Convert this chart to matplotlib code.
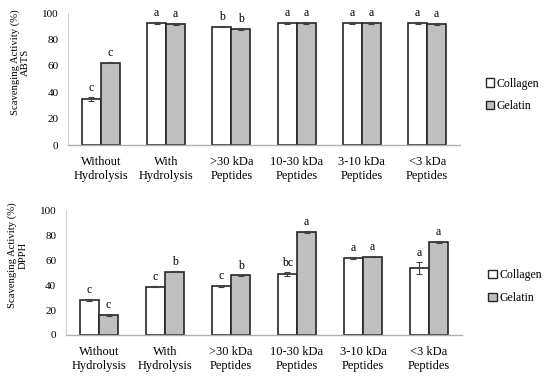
import matplotlib
matplotlib.use("Agg")
import matplotlib.pyplot as plt
import numpy as np
from matplotlib.patches import Patch

categories = ["Without\nHydrolysis", "With\nHydrolysis", ">30 kDa\nPeptides",
              "10-30 kDa\nPeptides", "3-10 kDa\nPeptides", "<3 kDa\nPeptides"]
series = ["Collagen", "Gelatin"]

abts_collagen = [34.8, 92.6, 89.8, 92.6, 92.6, 92.6]
abts_gelatin = [62.5, 91.9, 87.9, 92.6, 92.6, 91.9]
abts_col_err = [1.5, 0.6, 0.6, 0.5, 0.5, 0.5]
abts_gel_err = [0.5, 0.6, 0.8, 0.5, 0.5, 0.6]
abts_col_letters = ["c", "a", "b", "a", "a", "a"]
abts_gel_letters = ["c", "a", "b", "a", "a", "a"]

dpph_collagen = [28.2, 39.0, 39.2, 49.0, 62.0, 54.0]
dpph_gelatin = [16.0, 51.0, 48.0, 83.0, 63.0, 75.0]
dpph_col_err = [0.6, 0.5, 0.6, 1.5, 0.8, 4.5]
dpph_gel_err = [0.6, 0.5, 0.6, 0.5, 0.5, 0.5]
dpph_col_letters = ["c", "c", "c", "bc", "a", "a"]
dpph_gel_letters = ["c", "b", "b", "a", "a", "a"]

plt.rcParams['font.family'] = ['Liberation Serif', 'DejaVu Serif']

fig = plt.figure(figsize=(5.5, 3.78), dpi=100)
ax1 = fig.add_axes([0.124, 0.616, 0.712, 0.349])
ax2 = fig.add_axes([0.120, 0.114, 0.720, 0.328])

white = "#ffffff"
gray = "#bfbfbf"
w = 0.29


def draw(ax, col, gel, cerr, gerr, clet, glet, label, label_y, leg_y):
    x = np.arange(len(categories))
    ekw = dict(ecolor="#404040", elinewidth=0.8, capsize=2.5, capthick=0.8)
    ax.bar(x - w / 2, col, w, color=white, edgecolor="#262626", linewidth=1.2,
           yerr=cerr, error_kw=ekw)
    ax.bar(x + w / 2, gel, w, color=gray, edgecolor="#262626", linewidth=1.2,
           yerr=gerr, error_kw=ekw)
    for i in range(len(x)):
        ax.text(x[i] - w / 2, col[i] + cerr[i] + 2.5, clet[i], ha="center", va="bottom", fontsize=8.5)
        ax.text(x[i] + w / 2, gel[i] + gerr[i] + 2.5, glet[i], ha="center", va="bottom", fontsize=8.5)
    ax.set_xlim(-0.5, len(x) - 0.5)
    ax.set_ylim(0, 100)
    ax.set_yticks(range(0, 101, 20))
    ax.set_xticks(x)
    ax.set_xticklabels(categories, fontsize=9, linespacing=1.2)
    ax.tick_params(axis="both", length=0)
    ax.tick_params(axis="y", labelsize=8, pad=7)
    ax.tick_params(axis="x", pad=8)
    for s in ["top", "right"]:
        ax.spines[s].set_visible(False)
    ax.spines["left"].set_color("#d0d0d0")
    ax.spines["bottom"].set_color("#b0b0b0")
    ax.spines["left"].set_linewidth(0.8)
    ax.spines["bottom"].set_linewidth(1.0)
    ax.set_ylabel("Scavenging Activity (%)\n" + label, fontsize=7.7, linespacing=1.15)
    ax.yaxis.set_label_coords(-0.098, label_y)
    handles = [Patch(facecolor=white, edgecolor="#262626", linewidth=1.0),
               Patch(facecolor=gray, edgecolor="#262626", linewidth=1.0)]
    ax.legend(handles, series, loc="center left", bbox_to_anchor=(1.04, leg_y), frameon=False,
              fontsize=8.5, handlelength=0.7, handleheight=0.7, handletextpad=0.2, labelspacing=0.9)


draw(ax1, abts_collagen, abts_gelatin, abts_col_err, abts_gel_err,
     abts_col_letters, abts_gel_letters, "ABTS", 0.63, 0.38)
draw(ax2, dpph_collagen, dpph_gelatin, dpph_col_err, dpph_gel_err,
     dpph_col_letters, dpph_gel_letters, "DPPH", 0.64, 0.39)

fig.savefig("out.png", dpi=100)
